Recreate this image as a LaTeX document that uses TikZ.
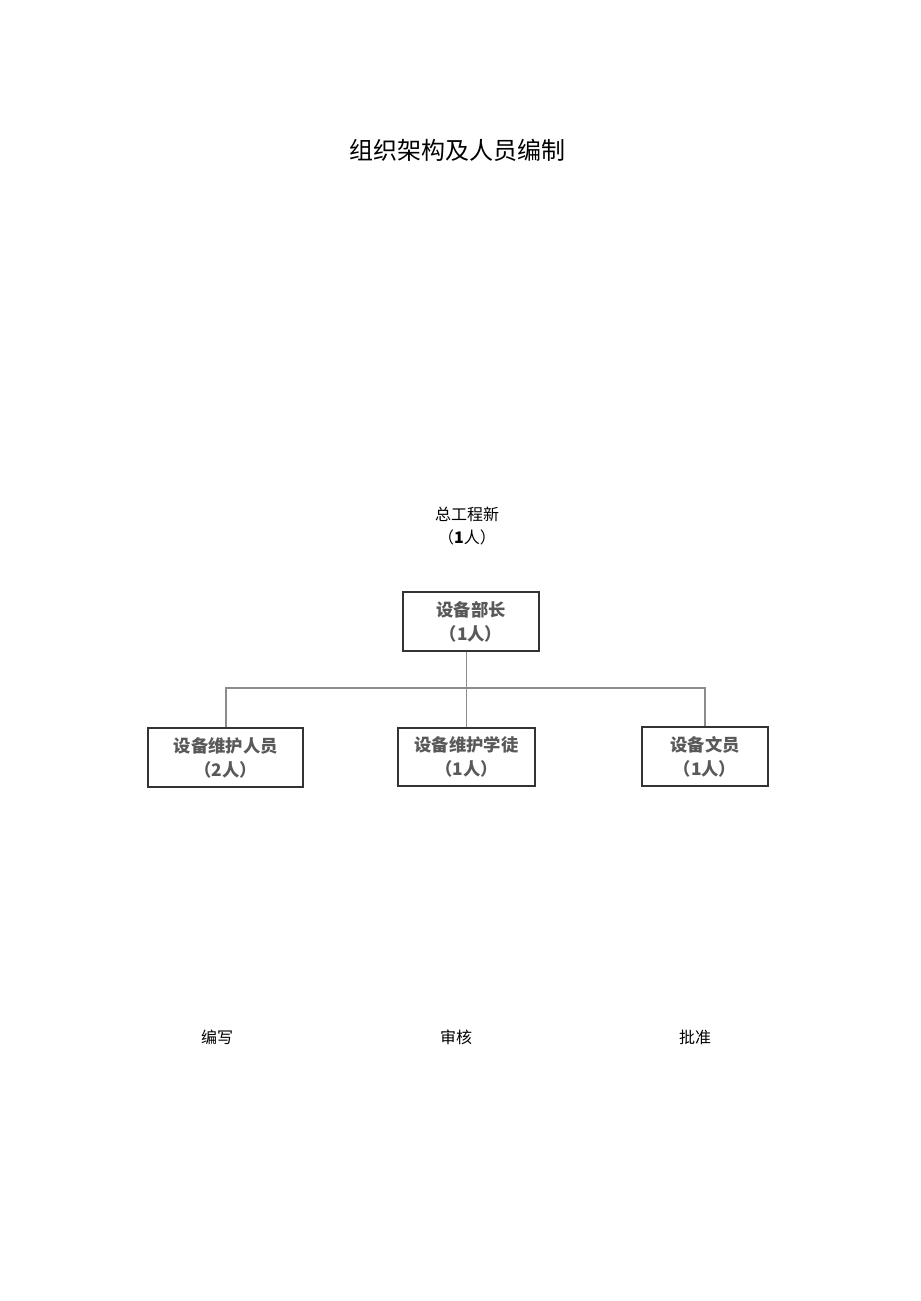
\documentclass[tikz,border=0pt]{standalone}
\usepackage{fontspec}
\newfontfamily\cjk{Noto Sans CJK SC}
\usetikzlibrary{positioning,calc}
\tikzset{
    post/.style={
        rectangle,
        draw=black!80,
        line width=1.5pt,
        minimum height=44pt,
        inner sep=0pt,
        align=center,
        font=\cjk\fontsize{13}{18}\selectfont\bfseries,
        text=black!65,
    },
    link/.style={
        draw=black!45,
        line width=1.3pt,
    },
    plain/.style={
        align=center,
        font=\cjk\fontsize{12}{17}\selectfont,
    },
}
\begin{document}
\begin{tikzpicture}[x=0.75pt,y=-0.75pt]
    \useasboundingbox (0,0) rectangle (920,1301);
    \node [font=\cjk\fontsize{18}{22}\selectfont] (title) at (457,150) {组织架构及人员编制};
    \node [plain] (chief) at (467,526) {总工程新\\（\textbf{1}人）};
    \node [post,minimum width=102pt] (head) at (471,621.5) {设备部长\\（1人）};
    \node [post,minimum width=116pt] (staff) at (225.8,757.5) {设备维护人员\\（2人）};
    \node [post,minimum width=103pt] (trainee) at (466.5,757) {设备维护学徒\\（1人）};
    \node [post,minimum width=94pt] (clerk) at (705,756.5) {设备文员\\（1人）};
    \coordinate (bar) at (467,688);
    \draw [link] (trainee.north |- head.south) -- (trainee.north);
    \draw [link] (staff.north) |- (bar) -| (clerk.north);
    \node [plain] (write) at (217,1037) {编写};
    \node [plain] (check) at (456,1037) {审核};
    \node [plain] (approve) at (695,1037) {批准};
\end{tikzpicture}
\end{document}
